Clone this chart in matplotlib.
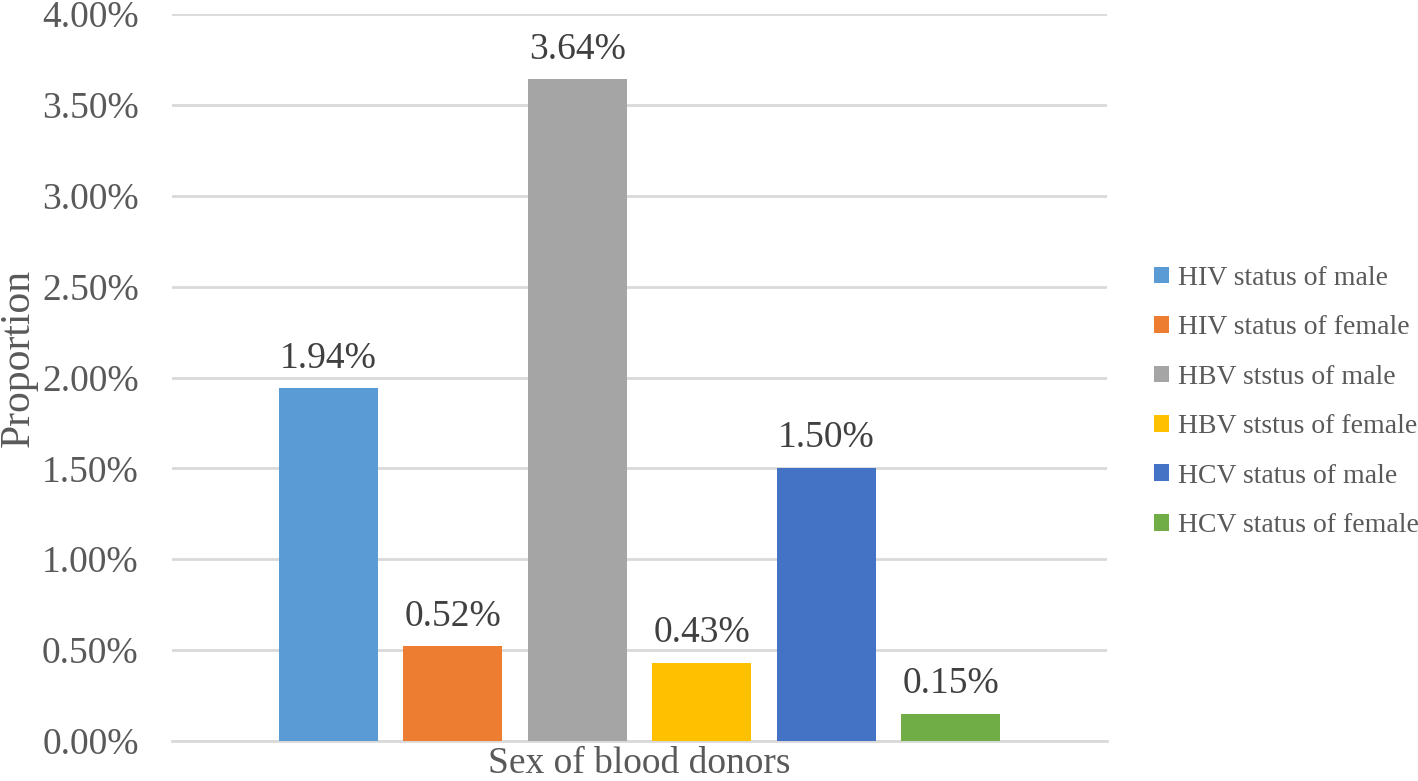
import numpy as np
import matplotlib.pyplot as plt
from matplotlib.ticker import PercentFormatter

series_names = [
    "HIV status of male",
    "HIV status of female",
    "HBV ststus of male",
    "HBV ststus of female",
    "HCV status of male",
    "HCV status of female",
]
values = [1.94, 0.52, 3.64, 0.43, 1.50, 0.15]
colors = ["#5B9BD5", "#ED7D31", "#A5A5A5", "#FFC000", "#4472C4", "#70AD47"]
y_ticks = [0.0, 0.5, 1.0, 1.5, 2.0, 2.5, 3.0, 3.5, 4.0]

plt.rcParams["font.family"] = ["Liberation Serif", "DejaVu Serif"]

fig = plt.figure(figsize=(14.18, 7.81), dpi=100)
ax = fig.add_axes([172 / 1418, 1 - 741 / 781, (1107 - 172) / 1418, (741 - 14) / 781])

x = np.arange(len(values))
for i, (name, v, c) in enumerate(zip(series_names, values, colors)):
    ax.bar(x[i], v, width=0.795, color=c, label=name, zorder=3)
    ax.text(x[i], v + 0.115, f"{v:.2f}%", ha="center", va="baseline",
            fontsize=27, color="#404040")

ax.set_xlim(-1.255, 6.255)
ax.set_ylim(0, 4.0)
ax.set_yticks(y_ticks)
ax.yaxis.set_major_formatter(PercentFormatter(decimals=2))
ax.set_xticks([])
ax.grid(axis="y", color="#D9D9D9", linewidth=2, zorder=0)
for side in ["top", "right", "left"]:
    ax.spines[side].set_visible(False)
ax.spines["bottom"].set_color("#D9D9D9")
ax.spines["bottom"].set_linewidth(2)
ax.tick_params(axis="y", length=0, pad=24, labelsize=27, labelcolor="#595959")

fig.text(19 / 1418, 1 - 358 / 781, "Proportion", rotation=90, ha="center", va="center",
         fontsize=30, color="#595959")
fig.text(639 / 1418, 1 - 773 / 781, "Sex of blood donors", ha="center", va="baseline",
         fontsize=27, color="#595959")

fig.legend(loc="center left", bbox_to_anchor=(1154 / 1418, 1 - 402 / 781),
           frameon=False, fontsize=20, borderpad=0, borderaxespad=0,
           handlelength=0.55, handleheight=0.55, handletextpad=0.3,
           labelspacing=0.88, labelcolor="#595959")

fig.savefig("out.png", dpi=100)
